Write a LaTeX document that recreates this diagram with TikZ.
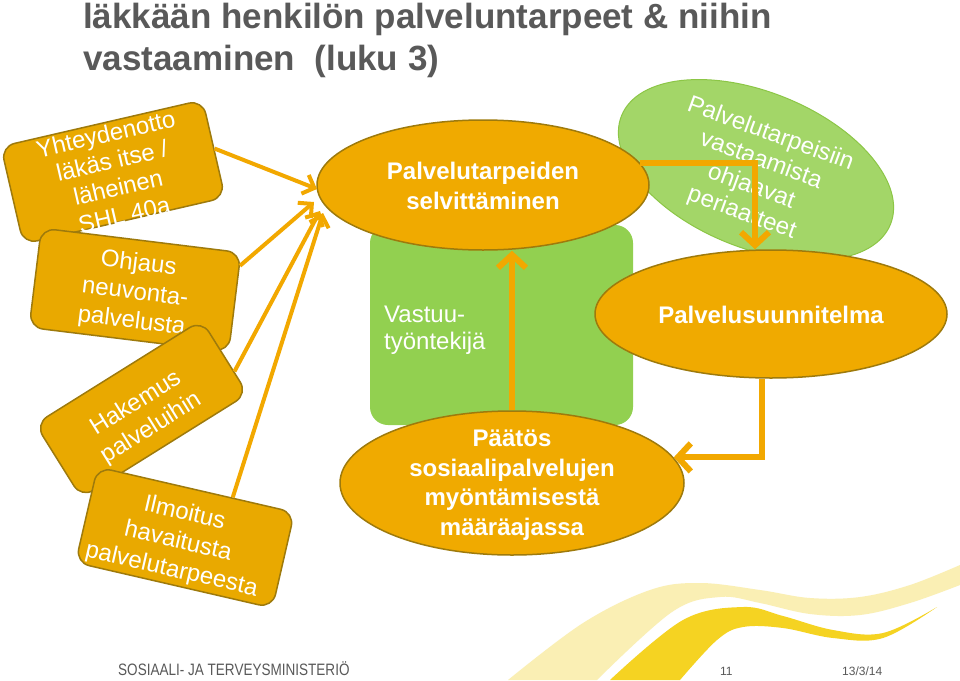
\documentclass[tikz,border=0pt]{standalone}
\usepackage{fontspec}
\setmainfont{Liberation Sans}
\usetikzlibrary{arrows.meta,shapes.geometric}
\definecolor{boxfill}{HTML}{E9A900}
\definecolor{ovfill}{HTML}{F0AA00}
\definecolor{bord}{HTML}{9E7A0C}
\definecolor{arr}{HTML}{F2A800}
\definecolor{grn}{HTML}{92D050}
\definecolor{lgrn}{HTML}{A3D668}
\definecolor{lgrnb}{HTML}{8CC646}
\definecolor{ttl}{HTML}{595959}
\definecolor{swlight}{HTML}{FAEFB4}
\definecolor{swdark}{HTML}{F5D322}
\begin{document}
\begin{tikzpicture}[x=1pt,y=-1pt,
  box/.style={draw=bord, line width=1.5pt, fill=boxfill, rounded corners=14pt, inner sep=0pt},
  btext/.style={text=white, font=\fontsize{24}{29}\selectfont, align=center, inner sep=0pt},
  oval/.style={ellipse, draw=bord, line width=1.5pt, fill=ovfill, inner sep=0pt},
  otext/.style={text=white, font=\bfseries\fontsize{24}{29.5}\selectfont, align=center, inner sep=0pt},
  thinarr/.style={draw=arr, line width=4pt, -{Straight Barb[length=10pt,width=20pt]}},
  thickarr/.style={draw=arr, line width=6pt, -{Straight Barb[length=13pt,width=28pt]}},
  titlef/.style={text=ttl, font=\bfseries\fontsize{35}{42}\selectfont, inner sep=0pt}
]
\useasboundingbox[fill=white] (0,0) rectangle (960,680);

% footer swooshes
\fill[swlight] plot[smooth,tension=0.6] coordinates {(508,680) (583,623) (650,590) (700,583) (760,590) (810,598) (860,597) (910,585) (960,565)}
  -- (960,585) -- plot[smooth,tension=0.6] coordinates {(960,585) (910,603) (860,615) (810,614) (760,603) (720,597) (672,612) (597,680)} -- cycle;
\fill[swdark] plot[smooth,tension=0.6] coordinates {(610,680) (683,620) (743,607) (783,616) (833,630) (883,633) (937,607)}
  -- plot[smooth,tension=0.6] coordinates {(937,607) (883,638) (833,638) (783,628) (743,627) (717,640) (680,680)} -- cycle;

% title
\node[titlef, anchor=base west] (ti1) at (83,28) {läkkään henkilön palveluntarpeet \& niihin};
\node[titlef, anchor=base west] (ti2) at (83,70) {vastaaminen\ \ (luku 3)};

% green shapes
\node[ellipse, draw=lgrnb, line width=1pt, fill=lgrn, rotate=-22, minimum width=290pt, minimum height=156pt, inner sep=0pt] (g2) at (756,170) {};
\node[text=white, font=\fontsize{24}{28}\selectfont, align=center, rotate=-20, inner sep=0pt] (g2t) at (756,174) {Palvelutarpeisiin\\vastaamista\\ohjaavat\\periaatteet};
\node[fill=grn, rounded corners=18pt, minimum width=263pt, minimum height=200pt, inner sep=0pt] (g1) at (501.5,325) {};
\node[text=white, font=\fontsize{24}{27}\selectfont, align=left, anchor=west, inner sep=0pt] (gt) at (384,330) {Vastuu-\\työntekijä};

% ellipses
\node[oval, minimum width=332pt, minimum height=130pt] (p1) at (483,185) {};
\node[otext] (p1t) at (483,186) {Palvelutarpeiden\\selvittäminen};
\node[oval, minimum width=352pt, minimum height=128pt] (p3) at (771,314) {};
\node[otext] (p3t) at (771,315) {Palvelusuunnitelma};
\node[oval, minimum width=344pt, minimum height=144pt] (p4) at (512,483) {};
\node[otext] (p4t) at (512,485) {Päätös\\sosiaalipalvelujen\\myöntämisestä\\määräajassa};

% left boxes
\node[box, rotate=13, minimum width=207pt, minimum height=100pt] (b1) at (113,172) {};
\node[btext, rotate=13, font=\fontsize{24}{27.5}\selectfont] (t1) at (115,174) {Yhteydenotto\\läkäs itse /\\läheinen\\SHL 40a};
\node[box, rotate=-7, minimum width=201pt, minimum height=100pt] (b2) at (135,290) {};
\node[btext, rotate=-7] (t2) at (135,293) {Ohjaus\\neuvonta-\\palvelusta};
\node[box, rotate=32, minimum width=196pt, minimum height=87pt] (b3) at (141.5,409) {};
\node[btext, rotate=32] (t3) at (144,416) {Hakemus\\palveluihin};
\node[box, rotate=-13, minimum width=202pt, minimum height=98pt] (b4) at (185,537.5) {};
\node[btext, rotate=-13] (t4) at (178,542) {Ilmoitus\\havaitusta\\palvelutarpeesta};

% connectors
\coordinate (h1) at (317,189);
\coordinate (h2) at (314,202);
\coordinate (h3) at (320,211);
\coordinate (h4) at (323,213);
\draw[thinarr] (b1.east) -- (h1);
\draw[thinarr] (b2.20) -- (h2);
\draw[thinarr] (b3.-10) -- (h3);
\draw[thinarr] (b4.53) -- (h4);

\draw[thickarr] (p4.north) -- (p4.north |- p1.south);
\draw[thickarr] (p1.8) -| ([xshift=-16pt]p3.north);
\draw[thickarr] ([xshift=-9pt]p3.south) |- (p4.9);

% footer text
\node[text=ttl, font=\fontsize{16.5}{18}\selectfont, anchor=base west, inner sep=0pt] (f1) at (118,675) {\scalebox{0.82}[1]{SOSIAALI- JA TERVEYSMINISTERIÖ}};
\node[text=ttl, font=\fontsize{12}{14}\selectfont, anchor=base west, inner sep=0pt] (f2) at (720,675) {11};
\node[text=ttl, font=\fontsize{12}{14}\selectfont, anchor=base west, inner sep=0pt] (f3) at (842,675) {13/3/14};
\end{tikzpicture}
\end{document}
